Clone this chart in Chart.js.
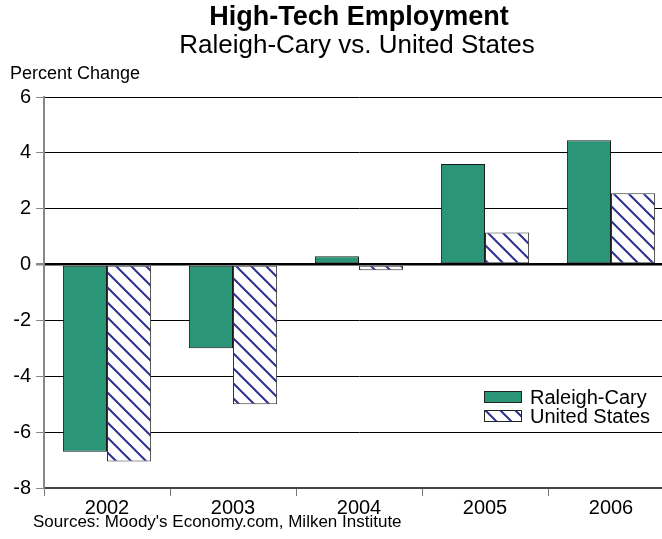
<!DOCTYPE html>
<html>
<head>
<meta charset="utf-8">
<script src="https://cdn.jsdelivr.net/npm/chart.js@4/dist/chart.umd.min.js"></script>
<style>
  html, body { margin: 0; padding: 0; background: #fff; }
  #wrap { width: 662px; height: 539px; overflow: hidden; }
</style>
</head>
<body>
<div id="wrap"><canvas id="chart" width="676" height="539"></canvas></div>
<script>
const years = ['2002', '2003', '2004', '2005', '2006'];
const raleighCary = [-6.7, -3.0, 0.3, 3.6, 4.45];
const unitedStates = [-7.05, -5.0, -0.2, 1.15, 2.55];
const yTicks = [-8, -6, -4, -2, 0, 2, 4, 6];

const FONT = 'Arial, "Liberation Sans", sans-serif';
const GREEN = '#2b9677';
const NAVY = '#2e3192';

const canvas = document.getElementById('chart');
const ctx = canvas.getContext('2d');

// white tile with "\" diagonal strokes
function hatch(color) {
  const t = document.createElement('canvas');
  t.width = t.height = 15;
  const g = t.getContext('2d');
  g.fillStyle = '#fff';
  g.fillRect(0, 0, 15, 15);
  g.strokeStyle = color;
  g.lineWidth = 2;
  g.beginPath();
  g.moveTo(-2, -2); g.lineTo(17, 17);
  g.moveTo(-2, 13); g.lineTo(2, 17);
  g.moveTo(13, -2); g.lineTo(17, 2);
  g.stroke();
  return ctx.createPattern(t, 'repeat');
}

const usPattern = hatch(NAVY);

const decorations = {
  id: 'decorations',
  afterDraw(chart) {
    const c = chart.ctx;
    const area = chart.chartArea;
    const mid = (area.left + area.right) / 2;
    c.save();
    c.fillStyle = '#000';
    c.textBaseline = 'middle';

    c.textAlign = 'center';
    c.font = 'bold 27px ' + FONT;
    c.fillText('High-Tech Employment', mid, 18);
    c.font = '26px ' + FONT;
    c.fillText('Raleigh-Cary vs. United States', mid - 2, 46);

    c.textAlign = 'left';
    c.font = '18px ' + FONT;
    c.fillText('Percent Change', 10, 74);
    c.font = '17px ' + FONT;
    c.fillText("Sources: Moody's Economy.com, Milken Institute", 33, 522);

    // legend in the lower right of the plot
    const ds = chart.data.datasets;
    const rows = [397, 416];
    c.font = '20px ' + FONT;
    ds.forEach((d, i) => {
      const y = rows[i];
      c.fillStyle = d.backgroundColor;
      c.fillRect(484, y - 6, 38, 12);
      c.strokeStyle = '#222';
      c.lineWidth = 1;
      c.strokeRect(484.5, y - 5.5, 37, 11);
      c.fillStyle = '#000';
      c.fillText(d.label, 530, y + 1);
    });
    c.restore();
  }
};

new Chart(canvas, {
  type: 'bar',
  data: {
    labels: years,
    datasets: [
      {
        label: 'Raleigh-Cary',
        data: raleighCary,
        backgroundColor: GREEN,
        borderColor: '#1a1a1a',
        borderWidth: 1,
        borderSkipped: false
      },
      {
        label: 'United States',
        data: unitedStates,
        backgroundColor: usPattern,
        borderColor: '#333',
        borderWidth: 1,
        borderSkipped: false
      }
    ]
  },
  plugins: [decorations],
  options: {
    responsive: false,
    animation: false,
    devicePixelRatio: 1,
    categoryPercentage: 0.7,
    barPercentage: 1,
    layout: { padding: { top: 97, right: 2, bottom: 19, left: 0 } },
    plugins: {
      legend: { display: false },
      title: { display: false },
      tooltip: { enabled: false }
    },
    scales: {
      x: {
        offset: true,
        grid: {
          offset: true,
          drawOnChartArea: false,
          tickLength: 8,
          tickColor: '#777',
          lineWidth: 1
        },
        border: { color: '#444', width: 2 },
        ticks: {
          color: '#000',
          padding: 0,
          font: { family: FONT, size: 20 }
        }
      },
      y: {
        min: -8,
        max: 6,
        afterBuildTicks: scale => { scale.ticks = yTicks.map(v => ({ value: v })); },
        afterFit: scale => { scale.width = 44; },
        grid: {
          color: '#000',
          lineWidth: c => (c.tick && c.tick.value === 0 ? 2.5 : 1),
          tickLength: 8,
          tickColor: '#888'
        },
        border: { color: '#888', width: 2 },
        ticks: {
          color: '#000',
          padding: 5,
          font: { family: FONT, size: 20 }
        }
      }
    }
  }
});
</script>
</body>
</html>
